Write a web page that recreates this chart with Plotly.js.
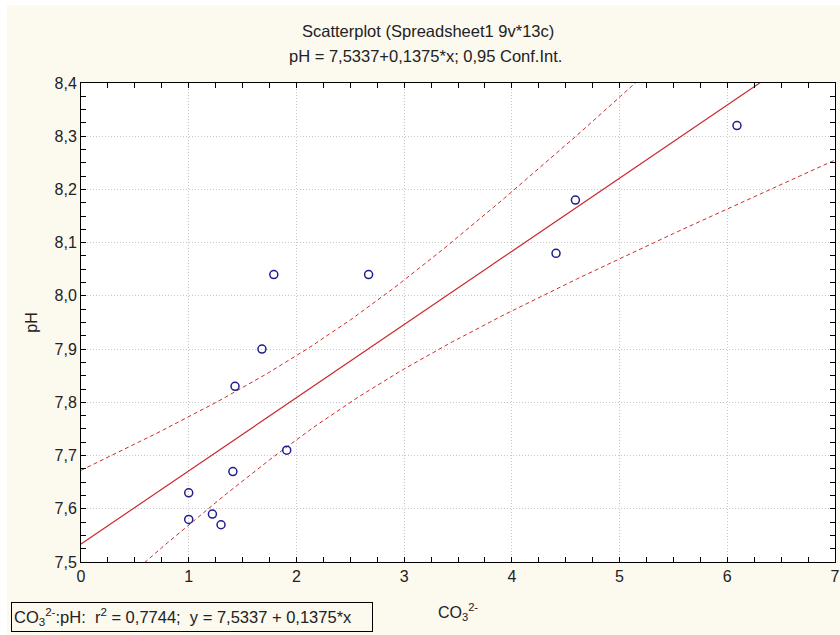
<!DOCTYPE html>
<html>
<head>
<meta charset="utf-8">
<script src="https://cdn.plot.ly/plotly-3.0.1.min.js"></script>
<style>
  html, body { margin: 0; padding: 0; background: #ffffff; }
  #chart { position: absolute; left: 7px; top: 5px; width: 833px; height: 630px; }
</style>
</head>
<body>
<div id="chart"></div>
<script>
// Carbonate (CO3 2-) vs pH samples
const co3 = [1.00, 1.00, 1.22, 1.30, 1.41, 1.91, 1.43, 1.68, 1.79, 2.67, 4.41, 4.59, 6.09];
const ph  = [7.63, 7.58, 7.59, 7.57, 7.67, 7.71, 7.83, 7.90, 8.04, 8.04, 8.08, 8.18, 8.32];

// Fitted model as reported: y = 7.5337 + 0.1375*x, r2 = 0.7744
const intercept = 7.5337;
const slope = 0.1375;
const rSquared = 0.7744;
const confLevel = 0.95;
const tCrit = 2.201; // t(0.975, df = 11)

const xRange = [0, 7];
const yRange = [7.5, 8.4];

// Confidence band for the mean response around the fitted line
const n = co3.length;
const meanX = co3.reduce((a, b) => a + b, 0) / n;
const sxx = co3.reduce((a, v) => a + (v - meanX) * (v - meanX), 0);
const sse = co3.reduce((a, v, i) => {
  const r = ph[i] - (intercept + slope * v);
  return a + r * r;
}, 0);
const s = Math.sqrt(sse / (n - 2));

const lineX = [], fitY = [], upY = [], loY = [];
const steps = 140;
for (let i = 0; i <= steps; i++) {
  const x = xRange[0] + (xRange[1] - xRange[0]) * i / steps;
  const yhat = intercept + slope * x;
  const half = tCrit * s * Math.sqrt(1 / n + (x - meanX) * (x - meanX) / sxx);
  lineX.push(x); fitY.push(yhat); upY.push(yhat + half); loY.push(yhat - half);
}

const fmt = (v, d) => v.toFixed(d).replace('.', ',');

const red = '#cc2b2b';
const textColor = '#222222';
const paper = '#fcf9ef';
const family = 'Liberation Sans, Arial, sans-serif';
const font = { family: family, size: 16, color: textColor };

const traces = [
  { x: lineX, y: upY, mode: 'lines', line: { color: red, width: 1, dash: '4px,3px' }, hoverinfo: 'skip' },
  { x: lineX, y: loY, mode: 'lines', line: { color: red, width: 1, dash: '4px,3px' }, hoverinfo: 'skip' },
  { x: lineX, y: fitY, mode: 'lines', line: { color: red, width: 1.2 }, hoverinfo: 'skip' },
  { x: co3, y: ph, mode: 'markers', cliponaxis: false,
    marker: { symbol: 'circle-open', size: 8, color: '#1e1e8c', line: { width: 1.5, color: '#1e1e8c' } } }
];

const plotW = 833 - 74 - 5;
const plotH = 630 - 78 - 73;

const minorTicks = { ticks: 'inside', ticklen: 5, tickcolor: '#000000', tickwidth: 1, showgrid: false };

const axisCommon = {
  showline: true, linecolor: '#000000', linewidth: 1, mirror: 'allticks',
  ticks: 'inside', ticklen: 5, tickcolor: '#000000', tickwidth: 1,
  showgrid: true, gridcolor: '#c8c8c8', griddash: '1px,2px', gridwidth: 1,
  zeroline: false, tickfont: font
};

const layout = {
  width: 833, height: 630,
  paper_bgcolor: paper, plot_bgcolor: '#ffffff',
  margin: { l: 74, r: 5, t: 78, b: 73 },
  showlegend: false,
  separators: ', ',
  font: font,
  xaxis: Object.assign({}, axisCommon, {
    range: xRange, dtick: 1, tick0: 0,
    minor: Object.assign({ dtick: 0.25 }, minorTicks),
    title: { text: 'CO<sub>3</sub><sup>2-</sup>', font: font, standoff: 22 }
  }),
  yaxis: Object.assign({}, axisCommon, {
    range: yRange, dtick: 0.1, tick0: 7.5, tickformat: '.1f',
    minor: Object.assign({ dtick: 0.025 }, minorTicks),
    title: { text: 'pH', font: font, standoff: 12 }
  }),
  annotations: [
    { text: 'Scatterplot (Spreadsheet1 9v*13c)', xref: 'paper', yref: 'paper',
      x: (428 - 81) / plotW, y: 1 + 52 / plotH, xanchor: 'center', yanchor: 'middle', showarrow: false,
      font: { family: family, size: 16.5, color: textColor } },
    { text: 'pH = ' + fmt(intercept, 4) + '+' + fmt(slope, 4) + '*x; ' + fmt(confLevel, 2) + ' Conf.Int.',
      xref: 'paper', yref: 'paper',
      x: (425 - 81) / plotW, y: 1 + 27 / plotH, xanchor: 'center', yanchor: 'middle', showarrow: false,
      font: { family: family, size: 16.5, color: textColor } },
    { text: 'CO<sub>3</sub><sup>2-</sup>:pH:&nbsp; r<sup>2</sup> = ' + fmt(rSquared, 4) +
            ';&nbsp; y = ' + fmt(intercept, 4) + ' + ' + fmt(slope, 4) + '*x',
      xref: 'paper', yref: 'paper',
      x: -70 / plotW, y: -40 / plotH, xanchor: 'left', yanchor: 'top', showarrow: false,
      align: 'left', width: 356, height: 24, borderpad: 2,
      bordercolor: '#000000', borderwidth: 1, bgcolor: paper,
      font: { family: family, size: 16.5, color: textColor } }
  ]
};

Plotly.newPlot('chart', traces, layout, { displayModeBar: false, staticPlot: true });
</script>
</body>
</html>
